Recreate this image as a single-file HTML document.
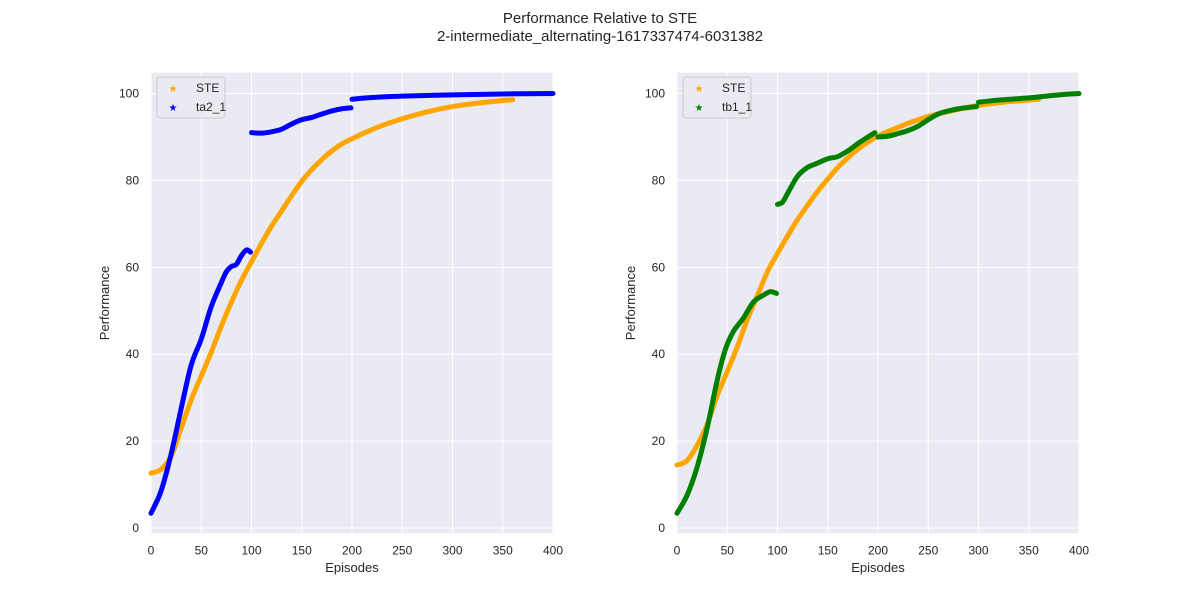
<!DOCTYPE html>
<html><head><meta charset="utf-8"><style>
body{margin:0;background:#fff;font-family:"Liberation Sans",sans-serif}
svg text{font-family:"Liberation Sans",sans-serif;fill:#262626}
</style></head><body>
<svg id="c" width="1200" height="600" xmlns="http://www.w3.org/2000/svg">
<text x="600" y="23" text-anchor="middle" font-size="15">Performance Relative to STE</text>
<text x="600" y="41" text-anchor="middle" font-size="15">2-intermediate_alternating-1617337474-6031382</text>
</svg>
<script>
const xTicks=[0,50,100,150,200,250,300,350,400];
const yTicks=[0,20,40,60,80,100];
const leftSteX=[0,10,20,30,40,50,60,70,80,90,100,110,120,130,140,150,160,170,180,190,200,225,250,275,300,325,350,360];
const leftSteY=[12.6,13.5,16.5,23,29.5,35,40.5,46.5,52,57,61.3,65.5,69.5,73,76.5,79.8,82.5,84.8,86.8,88.4,89.6,92.2,94.2,95.8,97,97.8,98.4,98.6];
const ta1X=[0,10,20,30,40,50,60,70,75,80,85,90,95,99];
const ta1Y=[3.4,8.5,17,27.5,37.5,43.5,51,56.5,59,60.2,60.7,62.7,64,63.5];
const ta2X=[100,110,120,130,140,150,160,170,180,190,199];
const ta2Y=[91,90.9,91.2,91.8,93,94,94.5,95.3,96,96.5,96.7];
const ta3X=[200,220,250,300,350,400];
const ta3Y=[98.7,99.1,99.4,99.7,99.9,100];
const rightSteX=[0,10,20,30,40,50,60,70,80,90,100,110,120,130,140,150,160,170,180,190,200,225,250,275,300,325,350,360];
const rightSteY=[14.5,15.5,19,23.8,30.5,36,41.7,48,53.5,59,63.2,67.2,71,74.3,77.5,80.3,83,85.2,87.2,88.8,90.2,92.7,94.7,96.1,97.3,98,98.5,98.7];
const tb1X=[0,10,20,30,40,48,56,66,76,86,93,99];
const tb1Y=[3.4,7.5,14,23,34,41,45.2,48.3,52,53.6,54.4,54];
const tb2X=[100,105,110,120,130,140,150,160,170,180,190,197];
const tb2Y=[74.5,75,77,81,83,84,85,85.5,86.8,88.5,90,91];
const tb3X=[200,210,220,230,240,250,260,270,280,290,298];
const tb3Y=[90,90.2,90.8,91.5,92.5,94,95.3,96,96.5,96.8,97];
const tb4X=[300,320,350,380,400];
const tb4Y=[98,98.5,99,99.7,100];

const NS="http://www.w3.org/2000/svg";
const svg=document.getElementById('c');
function mk(t,a,p){const e=document.createElementNS(NS,t);for(const k in a)e.setAttribute(k,a[k]);(p||svg).appendChild(e);return e;}
function smooth(P){
  let d='M'+P[0][0]+','+P[0][1];
  for(let i=0;i<P.length-1;i++){
    const p0=P[Math.max(0,i-1)],p1=P[i],p2=P[i+1],p3=P[Math.min(P.length-1,i+2)];
    const c1=[p1[0]+(p2[0]-p0[0])/6,p1[1]+(p2[1]-p0[1])/6];
    const c2=[p2[0]-(p3[0]-p1[0])/6,p2[1]-(p3[1]-p1[1])/6];
    d+=` C${c1[0]},${c1[1]} ${c2[0]},${c2[1]} ${p2[0]},${p2[1]}`;
  }
  return d;
}
function panel(x0,name,series,legendLabels){
  const w=402,top=72.7,bot=533.3,ymin=-1.22,ymax=104.8;
  const sx=v=>x0+v/400*w, sy=v=>bot-(v-ymin)/(ymax-ymin)*(bot-top);
  const g=mk('g',{});
  
  
  const bg=mk('rect',{x:x0,y:top,width:w,height:bot-top,fill:'#eaeaf2'},g);
  
  
  xTicks.forEach(t=>{
    mk('line',{x1:sx(t),x2:sx(t),y1:top,y2:bot,stroke:'#fff','stroke-width':1},g);
    const l=mk('text',{x:sx(t),y:bot+21,'text-anchor':'middle','font-size':12},g);l.textContent=t;
    
    
  });
  yTicks.forEach(t=>{
    mk('line',{x1:x0,x2:x0+w,y1:sy(t),y2:sy(t),stroke:'#fff','stroke-width':1},g);
    const l=mk('text',{x:x0-12,y:sy(t)+4,'text-anchor':'end','font-size':12},g);l.textContent=t;
    
    
  });
  const xl=mk('text',{x:x0+w/2,y:572,'text-anchor':'middle','font-size':13},g);xl.textContent='Episodes';
  
  
  const yl=mk('text',{x:0,y:0,'text-anchor':'middle','font-size':13,transform:`translate(${x0-42},${(top+bot)/2}) rotate(-90)`},g);yl.textContent='Performance';
  
  
  series.forEach(s=>{
    const P=s.x.map((v,i)=>[sx(v),sy(s.y[i])]);
    const p=mk('path',{d:smooth(P),fill:'none',stroke:s.c,'stroke-width':5,'stroke-linejoin':'round','stroke-linecap':'round'},g);
    
    
  });
  const lg=mk('g',{},g);
  
  
  mk('rect',{x:x0+6,y:77,width:68,height:41,rx:3,fill:'#eaeaf2',stroke:'#ccc'},lg);
  legendLabels.forEach((L,i)=>{
    mk('text',{x:x0+22,y:92+i*19,'text-anchor':'middle','font-size':10,style:'fill:'+L[1]},lg).textContent='★';
    const t=mk('text',{x:x0+45,y:92+i*19,'font-size':12},lg);t.textContent=L[0];
    
    
  });
}
panel(151,'left-panel',[
 {x:leftSteX,y:leftSteY,c:'orange',n:'ste-series'},
 {x:ta1X,y:ta1Y,c:'blue',n:'ta2-series-part1'},
 {x:ta2X,y:ta2Y,c:'blue',n:'ta2-series-part2'},
 {x:ta3X,y:ta3Y,c:'blue',n:'ta2-series-part3'}],[['STE','orange'],['ta2_1','blue']]);
panel(677,'right-panel',[
 {x:rightSteX,y:rightSteY,c:'orange',n:'ste-series'},
 {x:tb1X,y:tb1Y,c:'green',n:'tb1-series-part1'},
 {x:tb2X,y:tb2Y,c:'green',n:'tb1-series-part2'},
 {x:tb3X,y:tb3Y,c:'green',n:'tb1-series-part3'},
 {x:tb4X,y:tb4Y,c:'green',n:'tb1-series-part4'}],[['STE','orange'],['tb1_1','green']]);
</script>
</body></html>
